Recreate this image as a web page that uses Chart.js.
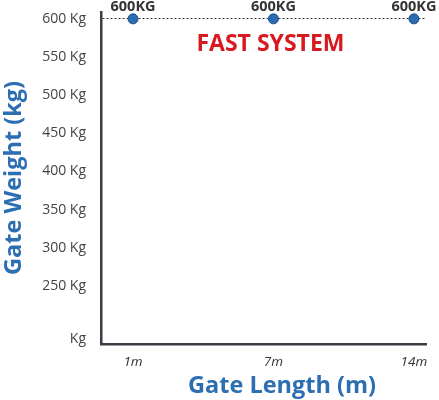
<!DOCTYPE html>
<html>
<head>
<meta charset="utf-8">
<script src="https://cdn.jsdelivr.net/npm/chart.js@4/dist/chart.umd.min.js"></script>
<style>
html,body{margin:0;padding:0;background:#fff;}
#wrap{width:439px;height:400px;position:relative;}
</style>
</head>
<body>
<div id="wrap"><canvas id="c"></canvas></div>
<script>
const categories = ["1m", "7m", "14m"];
const weights = [600, 600, 600];
const pointLabels = ["600KG", "600KG", "600KG"];
const yTickValues = [180, 250, 300, 350, 400, 450, 500, 550, 600];
const yTickLabels = ["Kg", "250 Kg", "300 Kg", "350 Kg", "400 Kg", "450 Kg", "500 Kg", "550 Kg", "600 Kg"];
const limitValue = 600;
const systemName = "FAST SYSTEM";
const xTitle = "Gate Length (m)";
const yTitle = "Gate Weight (kg)";

const BLUE = "#2b6eb2";
const FONT = "'Open Sans', sans-serif";

const textPlugin = {
  id: 'texts',
  afterDatasetsDraw(chart) {
    const ctx = chart.ctx;
    const meta = chart.getDatasetMeta(0);
    const xs = chart.scales.x, ys = chart.scales.y;
    ctx.save();
    ctx.fillStyle = "#333";
    ctx.font = "bold 14.5px " + FONT;
    ctx.textAlign = "center";
    ctx.textBaseline = "middle";
    meta.data.forEach((pt, i) => {
      ctx.fillText(pointLabels[i], pt.x, pt.y - 12);
    });
    ctx.fillStyle = "#d71a20";
    ctx.font = "bold 23px " + FONT;
    ctx.fillText(systemName, xs.getPixelForValue(1) - 3, ys.getPixelForValue(limitValue) + 26);
    ctx.fillStyle = BLUE;
    ctx.font = "bold 23.5px " + FONT;
    ctx.fillText(xTitle, 282, 386);
    ctx.restore();
  }
};

new Chart(document.getElementById('c'), {
  type: 'line',
  data: {
    datasets: [{
      data: categories.map((c, i) => ({x: i, y: weights[i]})),
      showLine: false,
      pointRadius: 5,
      pointHoverRadius: 5,
      pointBackgroundColor: "#2b6cb3",
      pointBorderColor: "#1f4f85",
      pointBorderWidth: 1
    }]
  },
  options: {
    responsive: true,
    maintainAspectRatio: false,
    animation: false,
    events: [],
    layout: {padding: {top: 12, right: 13, left: 0, bottom: 0}},
    plugins: {legend: {display: false}, tooltip: {enabled: false}},
    scales: {
      x: {
        type: 'linear',
        min: -0.228,
        max: 2.086,
        afterBuildTicks: (s) => { s.ticks = categories.map((c, i) => ({value: i})); },
        afterFit: (s) => { s.height = 56; s.paddingLeft = 0; s.paddingRight = 0; },
        grid: {display: false, drawTicks: false},
        border: {display: true, color: "#3a3d45", width: 2.5},
        ticks: {
          padding: 10,
          color: "#333",
          font: {family: FONT, size: 13.5, style: 'italic'},
          callback: (v, i) => categories[i]
        },
        title: {display: false}
      },
      y: {
        type: 'linear',
        min: 174,
        max: 609,
        afterBuildTicks: (s) => { s.ticks = yTickValues.map(v => ({value: v})); },
        afterFit: (s) => { s.width = 101; s.paddingTop = 0; s.paddingBottom = 0; },
        grid: {
          display: true,
          drawTicks: false,
          lineWidth: 1,
          color: (ctx) => (ctx.tick && ctx.tick.value === limitValue) ? "#333" : "rgba(0,0,0,0)"
        },
        border: {display: true, color: "#3a3d45", width: 2.5, dash: [2, 2]},
        ticks: {
          padding: 15,
          color: "#444",
          font: {family: FONT, size: 14},
          callback: (v, i) => yTickLabels[i]
        },
        title: {
          display: true,
          text: yTitle,
          color: BLUE,
          font: {family: FONT, size: 23.5, weight: 'bold'},
          padding: {top: 0, bottom: 0}
        }
      }
    }
  },
  plugins: [textPlugin]
});
</script>
</body>
</html>
